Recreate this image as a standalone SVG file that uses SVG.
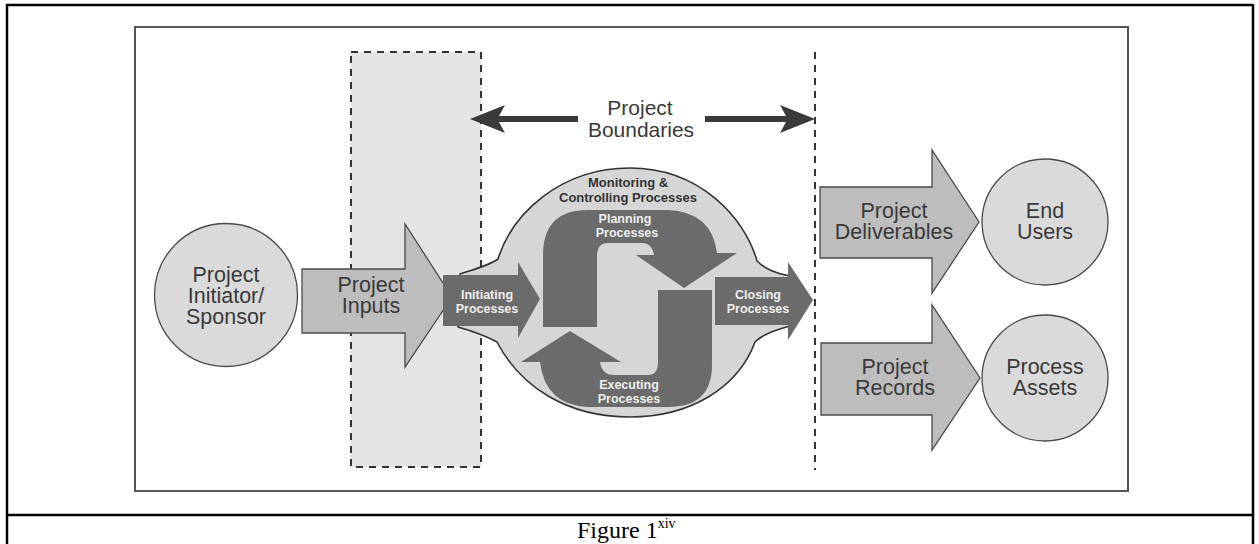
<svg xmlns="http://www.w3.org/2000/svg" width="1259" height="544" viewBox="0 0 1259 544">
  <defs>
    <style>
      .lbl { font-family: "Liberation Sans", Arial, sans-serif; font-size: 21.5px; fill: #3a3a3a; text-anchor: middle; }
      .big { font-family: "Liberation Sans", Arial, sans-serif; font-size: 21px; fill: #3a3a3a; text-anchor: middle; }
      .proc { font-family: "Liberation Sans", Arial, sans-serif; font-size: 12.5px; font-weight: bold; fill: #eeeeee; text-anchor: middle; }
      .mon { font-family: "Liberation Sans", Arial, sans-serif; font-size: 13px; font-weight: bold; fill: #333333; text-anchor: middle; }
      .circ { fill: #dadada; stroke: #4a4a4a; stroke-width: 1.3; }
      .flow { fill: #bdbdbd; stroke: #4a4a4a; stroke-width: 1.3; }
      .dark { fill: #6b6b6b; }
      .dash { fill: none; stroke: #333333; stroke-width: 2; stroke-dasharray: 7 6; }
      .frame { fill: none; stroke: #000000; stroke-width: 2.5; }
      .cap { font-family: "Liberation Serif", "Times New Roman", serif; fill: #000000; }
    </style>
  </defs>

  <rect width="1259" height="544" fill="#ffffff"/>

  <!-- table frame and caption row -->
  <g id="table">
    <line class="frame" x1="7" y1="5" x2="1253" y2="5"/>
    <line class="frame" x1="7" y1="4" x2="7" y2="544"/>
    <line class="frame" x1="1253" y1="4" x2="1253" y2="544"/>
    <line class="frame" x1="7" y1="515" x2="1253" y2="515"/>
    <text class="cap" x="577" y="538" font-size="24">Figure 1<tspan font-size="14" dy="-10">xiv</tspan></text>
  </g>

  <!-- figure border -->
  <rect id="figure-border" x="135" y="27" width="993" height="464" fill="none" stroke="#555555" stroke-width="2"/>

  <!-- boundary zone -->
  <g id="input-zone">
    <rect x="351" y="52" width="130" height="415" fill="#e4e4e4"/>
    <rect class="dash" x="351" y="52" width="130" height="415"/>
  </g>
  <line id="output-boundary" class="dash" x1="815" y1="52" x2="815" y2="470"/>

  <g id="boundaries">
    <path d="M470,119 L505,105 L499,116 L578,116 L578,122 L499,122 L505,133 Z" fill="#3a3a3a"/>
    <path d="M815,119 L780,105 L786,116 L705,116 L705,122 L786,122 L780,133 Z" fill="#3a3a3a"/>
    <text class="big" x="640" y="115">Project</text>
    <text class="big" x="641" y="137">Boundaries</text>
  </g>

  <!-- central process group -->
  <g id="process-group">
    <path d="M460,274 C478,268 490,265 498,259 C512,214 560,168 630,168 C700,168 745,218 757,261 C766,270 776,273 790,276 L790,326 C776,330 763,334 755,342 C738,388 690,417 630,417 C566,417 520,386 497,342 C486,336 472,331 458,327 Z" fill="#d6d6d6" stroke="#333333" stroke-width="1.6"/>
    <text class="mon" x="628" y="187">Monitoring &amp;</text>
    <text class="mon" x="628" y="202">Controlling Processes</text>
  </g>

  <g id="planning">
    <path class="dark" d="M543,327 L543,255 Q543,210 588,210 L668,210 Q712,212 717,253 L737,253 L684,288 L636,255 L654,255 Q652,243 642,243 L608,243 Q597,243 597,256 L597,327 Z"/>
    <text class="proc" x="625" y="223">Planning</text>
    <text class="proc" x="627" y="237">Processes</text>
  </g>

  <g id="executing">
    <path class="dark" d="M712,290 L712,365 Q712,407 668,407 L588,407 Q545,405 540,362 L521,362 L570,331 L621,362 L600,362 Q602,375 614,375 L648,375 Q658,375 658,362 L658,290 Z"/>
    <text class="proc" x="629" y="389">Executing</text>
    <text class="proc" x="629" y="403">Processes</text>
  </g>

  <!-- inputs side -->
  <g id="sponsor">
    <circle class="circ" cx="226" cy="295" r="71.5"/>
    <text class="lbl" x="226" y="282">Project</text>
    <text class="lbl" x="226" y="303">Initiator/</text>
    <text class="lbl" x="226" y="324">Sponsor</text>
  </g>

  <g id="inputs">
    <path class="flow" d="M302,269 L405,269 L405,224 L452,297 L405,367 L405,333 L302,333 Z"/>
    <text class="lbl" x="371" y="292">Project</text>
    <text class="lbl" x="371" y="313">Inputs</text>
  </g>

  <g id="initiating">
    <path class="dark" d="M443,275 L518,275 L518,262 L540,299 L518,338 L518,326 L443,326 Z"/>
    <text class="proc" x="487" y="299">Initiating</text>
    <text class="proc" x="487" y="313">Processes</text>
  </g>

  <g id="closing">
    <path class="dark" d="M715,277 L788,277 L788,262 L813,300 L788,340 L788,325 L715,325 Z"/>
    <text class="proc" x="758" y="299">Closing</text>
    <text class="proc" x="758" y="313">Processes</text>
  </g>

  <!-- outputs side -->
  <g id="deliverables">
    <path class="flow" d="M820,187 L932,187 L932,150 L979,222 L932,293 L932,258 L820,258 Z"/>
    <text class="lbl" x="894" y="218">Project</text>
    <text class="lbl" x="894" y="239">Deliverables</text>
  </g>

  <g id="records">
    <path class="flow" d="M821,343 L932,343 L932,305 L980,378 L932,450 L932,415 L821,415 Z"/>
    <text class="lbl" x="895" y="374">Project</text>
    <text class="lbl" x="895" y="395">Records</text>
  </g>

  <g id="end-users">
    <circle class="circ" cx="1045" cy="222" r="63"/>
    <text class="lbl" x="1045" y="218">End</text>
    <text class="lbl" x="1045" y="239">Users</text>
  </g>

  <g id="process-assets">
    <circle class="circ" cx="1045" cy="378" r="63"/>
    <text class="lbl" x="1045" y="374">Process</text>
    <text class="lbl" x="1045" y="395">Assets</text>
  </g>

  <g id="connectors"></g>
</svg>
